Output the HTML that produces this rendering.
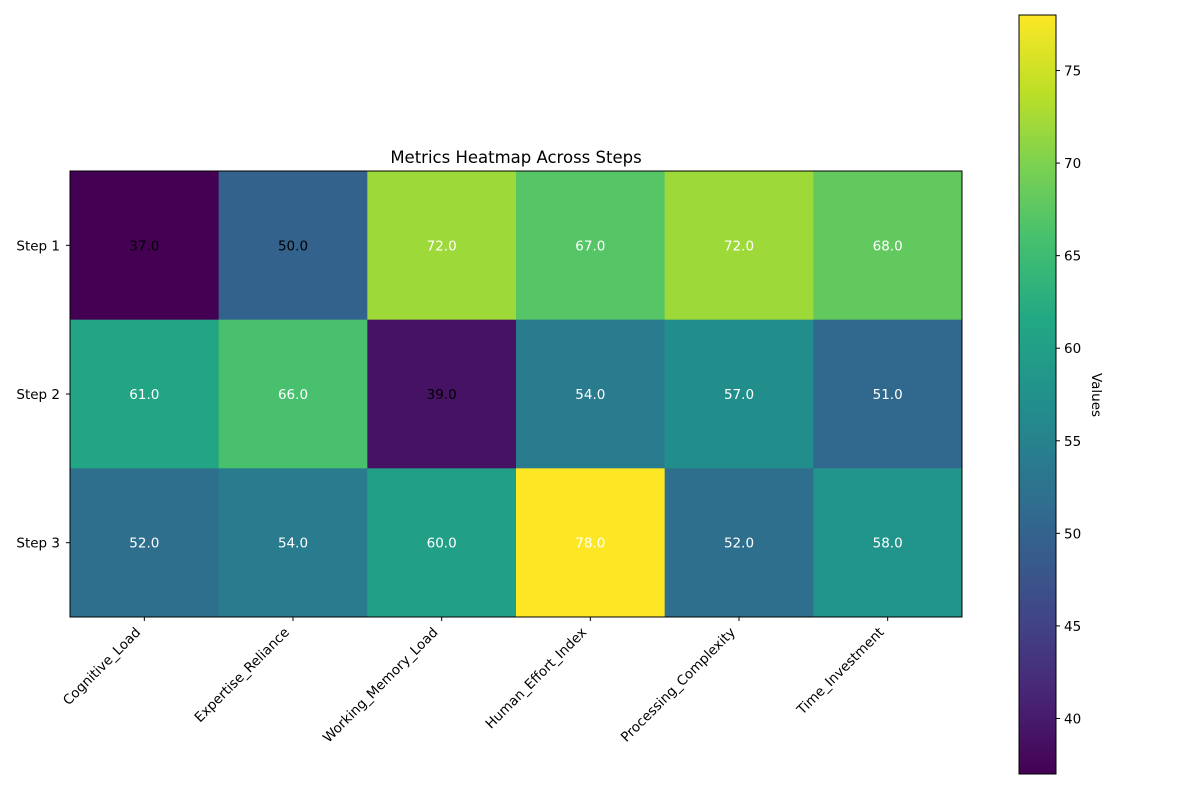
<!DOCTYPE html>
<html><head><meta charset="utf-8"><style>body{margin:0;background:#fff}svg{font-family:"DejaVu Sans","Liberation Sans",sans-serif}</style></head>
<body>
<svg id="chart" width="1200" height="800" xmlns="http://www.w3.org/2000/svg"></svg>
<script>
const categories=["Cognitive_Load","Expertise_Reliance","Working_Memory_Load","Human_Effort_Index","Processing_Complexity","Time_Investment"];
const steps=["Step 1","Step 2","Step 3"];
const step1=[37,50,72,67,72,68];
const step2=[61,66,39,54,57,51];
const step3=[52,54,60,78,52,58];
const cbTicks=[40,45,50,55,60,65,70,75];
const values=[step1,step2,step3];
const vir=["#440154","#482475","#414487","#355f8d","#2a788e","#21918c","#22a884","#44bf70","#7ad151","#bddf26","#fde725"];
function hex(c){return [1,3,5].map(i=>parseInt(c.substr(i,2),16));}
function viridis(t){t=Math.max(0,Math.min(1,t));const p=t*10,i=Math.min(9,Math.floor(p)),f=p-i;const a=hex(vir[i]),b=hex(vir[i+1]);return "rgb("+a.map((v,k)=>Math.round(v+(b[k]-v)*f)).join(",")+")";}
const all=values.flat(),vmin=Math.min(...all),vmax=Math.max(...all);
const X0=70,X1=962,Y0=171,Y1=617;
const cw=(X1-X0)/categories.length,ch=(Y1-Y0)/steps.length;
const xc=i=>X0+cw*(i+0.5),yc=j=>Y0+ch*(j+0.5);
const CB={x:1019,w:37,y0:15,y1:774};
const cbY=v=>CB.y1-(v-vmin)/(vmax-vmin)*(CB.y1-CB.y0);
const svg=document.getElementById('chart');const NS="http://www.w3.org/2000/svg";
function mk(t,a,txt){const e=document.createElementNS(NS,t);for(const k in a)e.setAttribute(k,a[k]);if(txt!==undefined)e.textContent=txt;svg.appendChild(e);return e;}
let e=mk('text',{x:(X0+X1)/2,y:163,'text-anchor':'middle','font-size':16.5},'Metrics Heatmap Across Steps');


values.forEach((row,j)=>row.forEach((v,i)=>{
 let r=mk('rect',{x:X0+cw*i,y:Y0+ch*j,width:cw+0.5,height:ch+0.5,fill:viridis((v-vmin)/(vmax-vmin))});
 
 
 let t=mk('text',{x:xc(i),y:yc(j)+5,'text-anchor':'middle','font-size':13.5,fill:(v-vmin)/(vmax-vmin)<0.33?'#000':'#fff'},v.toFixed(1));
 
 
}));
e=mk('rect',{x:X0,y:Y0,width:X1-X0,height:Y1-Y0,fill:'none',stroke:'#000','stroke-width':1});


steps.forEach((s,j)=>{
 mk('line',{x1:X0-4,x2:X0,y1:yc(j),y2:yc(j),stroke:'#000'});
 let t=mk('text',{x:X0-10,y:yc(j)+5,'text-anchor':'end','font-size':13.5},s);
 
 
});
categories.forEach((c,i)=>{
 mk('line',{x1:xc(i),x2:xc(i),y1:Y1,y2:Y1+4,stroke:'#000'});
 const px=xc(i)-3,py=Y1+16;
 let t=mk('text',{x:px,y:py,'text-anchor':'end','font-size':13.5,transform:'rotate(-45 '+px+' '+py+')'},c);
 
 
});
const defs=mk('defs',{});const g=document.createElementNS(NS,'linearGradient');g.setAttribute('id','vg');g.setAttribute('x1','0');g.setAttribute('y1','1');g.setAttribute('x2','0');g.setAttribute('y2','0');
for(let k=0;k<=20;k++){const s=document.createElementNS(NS,'stop');s.setAttribute('offset',k/20);s.setAttribute('stop-color',viridis(k/20));g.appendChild(s);}defs.appendChild(g);
e=mk('rect',{x:CB.x,y:CB.y0,width:CB.w,height:CB.y1-CB.y0,fill:'url(#vg)',stroke:'#000','stroke-width':1});


cbTicks.forEach(v=>{
 mk('line',{x1:CB.x+CB.w,x2:CB.x+CB.w+4,y1:cbY(v),y2:cbY(v),stroke:'#000'});
 let t=mk('text',{x:CB.x+CB.w+8,y:cbY(v)+5,'font-size':13.5},v);
 
 
});
e=mk('text',{x:1092,y:395,'font-size':13.5,'text-anchor':'middle',transform:'rotate(90 1092 395)'},'Values');


</script>
</body></html>
